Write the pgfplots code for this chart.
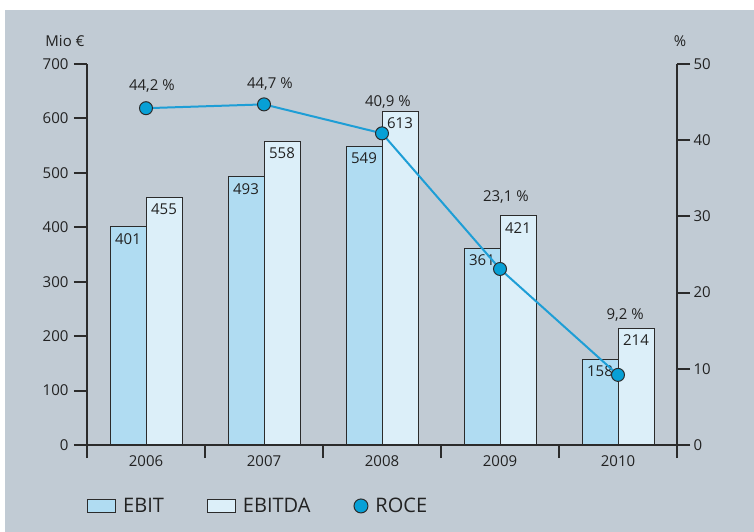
\documentclass[border=0pt]{standalone}
\usepackage{pgfplots}
\pgfplotsset{compat=1.18}
\usepackage{fontspec}
\setmainfont{Open Sans}
\definecolor{bg}{HTML}{C1CBD4}
\definecolor{ebit}{HTML}{B0DCF2}
\definecolor{ebitda}{HTML}{DCEFF9}
\definecolor{roce}{HTML}{1E9ED6}
\definecolor{rocem}{HTML}{07A0D6}
\definecolor{txt}{HTML}{222222}
\definecolor{axc}{HTML}{2B2B2B}
\newcommand{\tf}{\fontsize{15}{17}\selectfont}
\begin{document}
\begin{tikzpicture}[x=1pt,y=1pt]
\useasboundingbox (0,0) rectangle (754,532);
\fill[white] (0,0) rectangle (754,532);
\fill[bg] (5,0) rectangle (754,522);
\begin{axis}[
  at={(87pt,87pt)}, anchor=south west,
  scale only axis, width=590pt, height=381pt,
  xmin=-0.5, xmax=4.5, ymin=0, ymax=700,
  axis x line*=bottom, axis y line*=left,
  axis line style={line width=2pt, draw=axc, -},
  ytick={0,100,...,700},
  xtick={-0.5,0.5,1.5,2.5,3.5,4.5}, xticklabels={},
  extra x ticks={0,1,2,3,4}, extra x tick labels={2006,2007,2008,2009,2010},
  extra x tick style={major tick length=0pt, xticklabel style={yshift=-7pt}},
  major tick length=13pt, tick align=outside,
  tick style={line width=2pt, draw=axc},
  tick label style={font=\tf, text=txt},
  yticklabel style={xshift=-2pt},
  /pgf/number format/assume math mode=true,
  ylabel={Mio €},
  every axis y label/.style={at={(axis description cs:-0.0373,1.0606)}, anchor=center, font=\tf, text=txt},
  ybar=0pt, bar width=36pt,
  nodes near coords,
  every node near coord/.append style={font=\tf, text=txt, anchor=center, yshift=-12pt},
  legend columns=3,
  legend style={draw=none, fill=none, at={(0,-0.16)}, anchor=west, inner sep=0pt,
    font=\fontsize{20}{24}\selectfont, text=txt,
    nodes={inner sep=0pt},
    /tikz/every even column/.append style={column sep=43pt},
    /tikz/every odd column/.append style={column sep=7pt}},
  legend cell align=left,
]
\addplot[fill=ebit, draw=axc, line width=1pt,
  legend image code/.code={\draw[fill=ebit, draw=axc, line width=1pt] (0pt,-6.5pt) rectangle (28pt,6.5pt);}]
  coordinates {(0,401) (1,493) (2,549) (3,361) (4,158)};
\addplot[fill=ebitda, draw=axc, line width=1pt,
  legend image code/.code={\draw[fill=ebitda, draw=axc, line width=1pt] (0pt,-6.5pt) rectangle (28pt,6.5pt);}]
  coordinates {(0,455) (1,558) (2,613) (3,421) (4,214)};
\addlegendimage{legend image code/.code={\draw[fill=rocem, draw=axc, line width=1pt] (7pt,0pt) circle[radius=7pt];}}
\legend{EBIT, EBITDA, ROCE}
\end{axis}
\begin{axis}[
  at={(87pt,87pt)}, anchor=south west,
  scale only axis, width=590pt, height=381pt,
  xmin=-0.5, xmax=4.5, ymin=0, ymax=50,
  axis x line=none, axis y line*=right,
  axis line style={line width=2pt, draw=axc, -},
  ytick={0,10,...,50},
  major tick length=13pt, tick align=outside,
  tick style={line width=2pt, draw=axc},
  tick label style={font=\tf, text=txt},
  /pgf/number format/assume math mode=true,
  ylabel={\%},
  every axis y label/.style={at={(axis description cs:1.005,1.0606)}, anchor=center, font=\tf, text=txt},
  clip=false,
]
\addplot[roce, line width=2pt, mark=*, mark size=6.5pt,
  mark options={fill=rocem, draw=axc, line width=1pt}]
  coordinates {(0,44.2) (1,44.7) (2,40.9) (3,23.1) (4,9.2)};
\addplot[draw=none, mark=none, nodes near coords, point meta=explicit symbolic,
  every node near coord/.append style={font=\tf, text=txt, anchor=center}]
  coordinates {(0.05,47.1) [{44,2 \%}] (1.05,47.4) [{44,7 \%}] (2.05,45.0) [{40,9 \%}] (3.05,32.5) [{23,1 \%}] (4.06,17.0) [{9,2 \%}]};
\end{axis}
\end{tikzpicture}
\end{document}
